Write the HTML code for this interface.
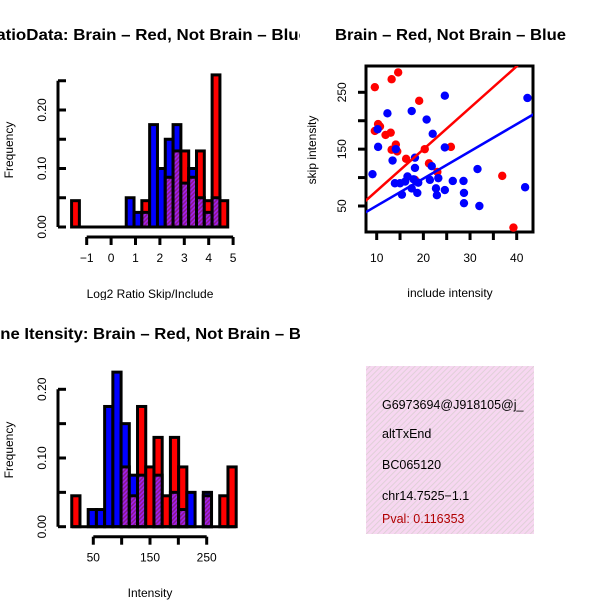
<!DOCTYPE html>
<html><head><meta charset="utf-8"><style>
html,body{margin:0;padding:0;background:#fff;}
svg{display:block;font-family:"Liberation Sans",sans-serif;}
</style></head><body>
<svg id="chart" width="600" height="600" viewBox="0 0 600 600">
<defs>
<clipPath id="cTL"><rect x="0" y="0" width="300" height="300"/></clipPath>
<clipPath id="cBL"><rect x="0" y="300" width="300" height="300"/></clipPath>
<clipPath id="cSc"><rect x="366" y="66" width="167" height="166"/></clipPath>
<clipPath id="cBox"><rect x="366" y="366" width="168" height="168"/></clipPath>
<pattern id="purp" width="3" height="3" patternUnits="userSpaceOnUse" patternTransform="rotate(45)">
<rect width="3" height="3" fill="#a020f0"/><rect width="1.5" height="3" fill="#8a1a8a"/></pattern>
<pattern id="pinkhatch" width="4" height="4" patternUnits="userSpaceOnUse" patternTransform="rotate(45)">
<rect width="4" height="4" fill="#f7d7f1"/><rect width="1" height="4" fill="#e0d0d8"/></pattern>
</defs>
<g id="tl" clip-path="url(#cTL)">
<text x="-16" y="40" textLength="324" lengthAdjust="spacingAndGlyphs" font-size="16" font-weight="bold">RatioData: Brain – Red, Not Brain – Blue</text>
<text x="150" y="298" text-anchor="middle" font-size="12">Log2 Ratio Skip/Include</text>
<text transform="translate(13,150) rotate(-90)" text-anchor="middle" font-size="12">Frequency</text>
</g>
<g id="bl" clip-path="url(#cBL)">
<text x="-22" y="339" textLength="347" lengthAdjust="spacingAndGlyphs" font-size="16" font-weight="bold">Gene Itensity: Brain – Red, Not Brain – Blue</text>
<text x="150" y="597" text-anchor="middle" font-size="12">Intensity</text>
<text transform="translate(13,450) rotate(-90)" text-anchor="middle" font-size="12">Frequency</text>
</g>
<g id="tr">
<text x="335" y="40" textLength="231" lengthAdjust="spacingAndGlyphs" font-size="16" font-weight="bold">Brain – Red, Not Brain – Blue</text>
<text x="450" y="297" text-anchor="middle" font-size="12">include intensity</text>
<text transform="translate(316,150) rotate(-90)" text-anchor="middle" font-size="12">skip intensity</text>
</g>
<g id="box">
<rect x="366" y="366" width="168" height="168" fill="url(#pinkhatch)"/>
<g clip-path="url(#cBox)" font-size="12.5">
<text x="382" y="409">G6973694@J918105@j_</text>
<text x="382" y="438">altTxEnd</text>
<text x="382" y="469">BC065120</text>
<text x="382" y="500">chr14.7525−1.1</text>
<text x="382" y="523" fill="#b00000">Pval: 0.116353</text>
</g>
</g>
</svg>
<script>
// ---- Ratio histogram data ----
var ratioBinStart = -1.62;
var ratioBinWidth = 0.32;
var ratioRed  = [0.045,0,0,0,0,0,0,0,0,0.045,0,0,0.085,0.13,0.13,0.085,0.13,0.045,0.26,0.045];
var ratioBlue = [0,0,0,0,0,0,0,0.05,0.025,0.025,0.175,0.10,0.15,0.175,0.075,0.10,0.05,0.025,0.05,0];
var ratioXTicks = [-1,0,1,2,3,4,5];
var ratioYTicks = ["0.00","0.10","0.20"];
// ---- Intensity histogram data ----
var intBinStart = 12;
var intBinWidth = 14.5;
var intRed  = [0.045,0,0,0,0,0,0.087,0.045,0.175,0.087,0.13,0.045,0.13,0.087,0,0,0.045,0,0.045,0.087];
var intBlue = [0,0,0.025,0.025,0.175,0.225,0.15,0.075,0.075,0,0.075,0,0.05,0.025,0.05,0,0.05,0,0,0];
var intXTicks = [50,150,250];
var intXTicksMinor = [50,100,150,200,250];
var intYTicks = ["0.00","0.10","0.20"];
// ---- Scatter data ----
var redX = [9.6,13.2,14.6,19.1,10.3,10.7,9.6,11.9,13.0,14.1,14.4,13.2,16.3,20.3,21.2,23.0,25.9,36.9,39.3,18.2];
var redY = [259,273,285,235,194,190,182,175,179,158,146,149,133,150,125,110,154,103,12,96];
var blueX = [9.1,10.3,12.3,10.2,14.1,13.4,17.5,18.2,18.2,20.7,22.0,21.8,24.6,24.6,13.9,15.4,16.6,15.0,17.5,18.7,17.9,21.4,23.2,22.7,22.9,24.6,26.3,28.6,28.7,28.7,32.0,31.6,42.3,41.8,16.1,18.9];
var blueY = [106,154,213,185,150,130,217,135,117,202,177,120,244,153,90,70,102,90,81,73,97,96,99,81,69,78,94,94,73,55,50,115,240,83,93,91];
var redFit = [3.4,7.31];
var blueFit = [2.4,4.79];
var scXTicks = [10,15,20,25,30,35,40];
var scXLabels = [10,20,30,40];
var scYTicks = [50,100,150,200,250];
var scYLabels = [50,150,250];

var NS="http://www.w3.org/2000/svg";
function mk(tag,attrs,parent){var e=document.createElementNS(NS,tag);for(var k in attrs)e.setAttribute(k,attrs[k]);parent.appendChild(e);return e;}

function drawHist(g,binStart,binW,red,blue,xs,ys,yTickVals,xTicks,xLabels,yLabels,name){
  var n=red.length;
  for(var i=0;i<n;i++){
    var x0=xs(binStart+i*binW),x1=xs(binStart+(i+1)*binW);
    var r=red[i],b=blue[i];var mx=Math.max(r,b),mn=Math.min(r,b);
    if(mx<=0)continue;
    var big=mk('rect',{x:x0,y:ys(mx),width:x1-x0,height:ys(0)-ys(mx),fill:(r>=b?'#ff0000':'#0000ff'),stroke:'#000','stroke-width':3},g);
    
    
    if(mn>0){
      var p=mk('rect',{x:x0,y:ys(mn),width:x1-x0,height:ys(0)-ys(mn),fill:'url(#purp)',stroke:'#000','stroke-width':3},g);
      
      
    }
  }
  mk('line',{x1:xs(binStart),x2:xs(binStart+n*binW),y1:ys(0),y2:ys(0),stroke:'#000','stroke-width':3},g);
  var yTop=ys(yTickVals[yTickVals.length-1]);
  var ya=mk('path',{d:'M58 '+ys(0)+'V'+yTop,stroke:'#000','stroke-width':3,fill:'none'},g);
  
  
  yTickVals.forEach(function(v){mk('line',{x1:58,x2:66,y1:ys(v),y2:ys(v),stroke:'#000','stroke-width':3},g);});
  yLabels.forEach(function(l){var t=mk('text',{transform:'translate(46,'+ys(parseFloat(l))+') rotate(-90)','text-anchor':'middle','font-size':12},g);t.textContent=l;
    
    });
  var axY=ys(0)+10;
  var xa=mk('path',{d:'M'+xs(xTicks[0])+' '+axY+'H'+xs(xTicks[xTicks.length-1]),stroke:'#000','stroke-width':3,fill:'none'},g);
  
  
  xTicks.forEach(function(v){mk('line',{x1:xs(v),x2:xs(v),y1:axY,y2:axY+8,stroke:'#000','stroke-width':3},g);});
  xLabels.forEach(function(v){var t=mk('text',{x:xs(v),y:axY+25,'text-anchor':'middle','font-size':12},g);t.textContent=(v<0?'−'+(-v):v);
    
    });
}
(function(){
  var g=document.getElementById('tl');
  var xs=function(v){return 111.1+(v)*24.4;};
  var ys=function(v){return 227-v*585;};
  drawHist(g,ratioBinStart,ratioBinWidth,ratioRed,ratioBlue,xs,ys,[0,0.05,0.10,0.15,0.20,0.25],ratioXTicks,ratioXTicks,ratioYTicks,'ratio');
})();
(function(){
  var g=document.getElementById('bl');
  var xs=function(v){return 93.3+(v-50)*0.567;};
  var ys=function(v){return 526.7-v*687;};
  drawHist(g,intBinStart,intBinWidth,intRed,intBlue,xs,ys,[0,0.05,0.10,0.15,0.20],intXTicksMinor,intXTicks,intYTicks,'intensity');
})();
(function(){
  var g=document.getElementById('tr');
  var xs=function(v){return 376.7+(v-10)*4.667;};
  var ys=function(v){return 206-(v-50)*0.5685;};
  var frame=mk('rect',{x:366,y:66,width:167,height:166,fill:'none',stroke:'#000','stroke-width':3},g);
  
  
  scXTicks.forEach(function(v){mk('line',{x1:xs(v),x2:xs(v),y1:232,y2:240,stroke:'#000','stroke-width':3},g);});
  scXLabels.forEach(function(v){var t=mk('text',{x:xs(v),y:262,'text-anchor':'middle','font-size':12},g);t.textContent=v;
    
    });
  scYTicks.forEach(function(v){mk('line',{x1:358,x2:366,y1:ys(v),y2:ys(v),stroke:'#000','stroke-width':3},g);});
  scYLabels.forEach(function(v){var t=mk('text',{transform:'translate(346,'+ys(v)+') rotate(-90)','text-anchor':'middle','font-size':12},g);t.textContent=v;
    
    });
  var c=mk('g',{'clip-path':'url(#cSc)'},g);
  for(var i=0;i<redX.length;i++){var p=mk('circle',{cx:xs(redX[i]),cy:ys(redY[i]),r:4.2,fill:'#ff0000'},c);
    
    }
  for(var j=0;j<blueX.length;j++){var q=mk('circle',{cx:xs(blueX[j]),cy:ys(blueY[j]),r:4.2,fill:'#0000ff'},c);
    
    }
  var x0=5,x1=45;
  var rl=mk('line',{x1:xs(x0),y1:ys(redFit[0]+redFit[1]*x0),x2:xs(x1),y2:ys(redFit[0]+redFit[1]*x1),stroke:'#ff0000','stroke-width':2.5},c);
  
  
  var bl=mk('line',{x1:xs(x0),y1:ys(blueFit[0]+blueFit[1]*x0),x2:xs(x1),y2:ys(blueFit[0]+blueFit[1]*x1),stroke:'#0000ff','stroke-width':2.5},c);
  
  
})();
</script>
</body></html>
